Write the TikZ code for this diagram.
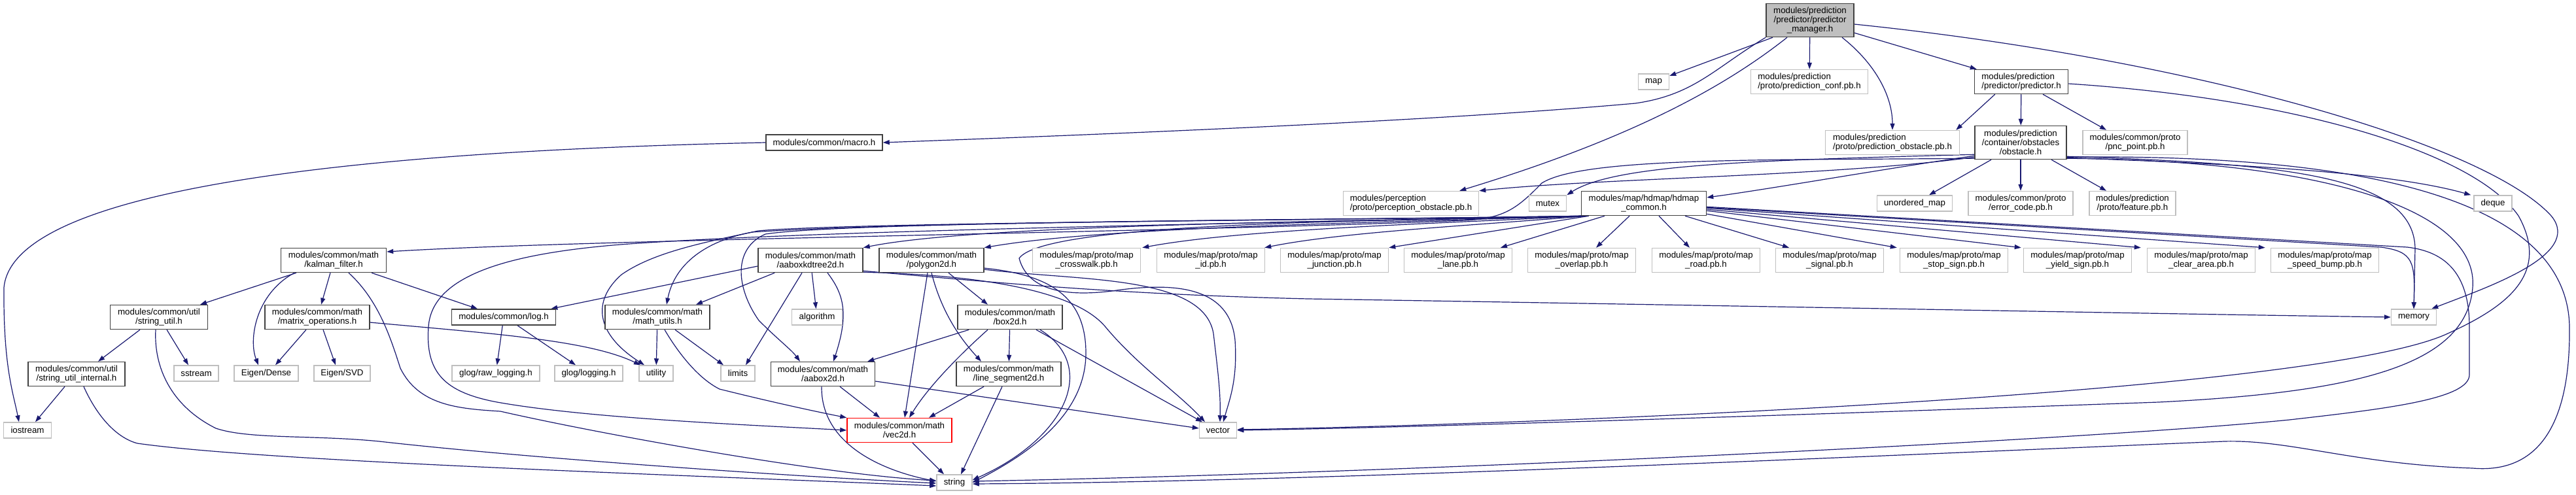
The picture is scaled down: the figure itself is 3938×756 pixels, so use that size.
\documentclass[tikz,border=0pt]{standalone}
\usepackage{fontspec}
\setmainfont{Liberation Sans}
\usetikzlibrary{arrows.meta}
\definecolor{edgec}{HTML}{191970}
\definecolor{extc}{HTML}{BFBFBF}
\definecolor{docc}{HTML}{404040}
\definecolor{rootc}{HTML}{BFBFBF}
\pgfdeclarelayer{back}
\pgfdeclarelayer{edges}
\pgfsetlayers{back,edges,main}
\tikzset{
  box/.style={rectangle, inner sep=0pt, line width=1.5pt, fill=white, align=center, minimum height=24pt},
  doc/.style={box, draw=docc},
  ext/.style={box, draw=extc},
  two/.style={minimum height=37pt},
  mapbox/.style={ext, two, minimum width=165pt},
  e/.style={draw=edgec, line width=1.2pt, -{Triangle[length=10pt,width=7pt]}},
}
\begin{document}
\begin{tikzpicture}[x=1pt,y=-1pt,font=\fontsize{13.3pt}{13.8pt}\selectfont]
\begin{pgfonlayer}{back}
\fill[white] (0,0) rectangle (3938,756);
\end{pgfonlayer}
\useasboundingbox (0,0) rectangle (3938,756);
% ---------------- nodes ----------------
\node[doc,fill=rootc,minimum width=134pt,minimum height=51pt] (pm) at (2767,31) {modules/prediction\\/predictor/predictor\\\_manager.h};
\node[ext,minimum width=47pt] (map) at (2528,125) {map};
\node[ext,two,minimum width=179pt,align=left] (pconf) at (2766,125) {modules/prediction\\/proto/prediction\_conf.pb.h};
\node[doc,two,minimum width=143pt,align=left] (predh) at (3090,125) {modules/prediction\\/predictor/predictor.h};
\node[doc,minimum width=178pt] (macro) at (1260,218) {modules/common/macro.h};
\node[ext,two,minimum width=205pt,align=left] (pobs) at (2893,218) {modules/prediction\\/proto/prediction\_obstacle.pb.h};
\node[doc,minimum width=140pt,minimum height=51pt] (obst) at (3089,218) {modules/prediction\\/container/obstacles\\/obstacle.h};
\node[ext,two,minimum width=160pt] (pnc) at (3264,218) {modules/common/proto\\/pnc\_point.pb.h};
\node[ext,two,minimum width=207pt,align=left] (perc) at (2157,311) {modules/perception\\/proto/perception\_obstacle.pb.h};
\node[ext,minimum width=57pt] (mutex) at (2366,311) {mutex};
\node[doc,two,minimum width=191pt] (hdmap) at (2513,311) {modules/map/hdmap/hdmap\\\_common.h};
\node[ext,minimum width=115pt] (umap) at (2927,311) {unordered\_map};
\node[ext,two,minimum width=160pt] (errc) at (3089,311) {modules/common/proto\\/error\_code.pb.h};
\node[ext,two,minimum width=132pt] (feat) at (3260,311) {modules/prediction\\/proto/feature.pb.h};
\node[ext,minimum width=58pt] (deque) at (3811,311) {deque};
\node[doc,two,minimum width=161pt] (kalman) at (510,398) {modules/common/math\\/kalman\_filter.h};
\node[doc,two,minimum width=160pt] (aakd) at (1239,398) {modules/common/math\\/aaboxkdtree2d.h};
\node[doc,two,minimum width=160pt] (poly) at (1424,398) {modules/common/math\\/polygon2d.h};
\node[mapbox] (crosswalk) at (1661,398) {modules/map/proto/map\\\_crosswalk.pb.h};
\node[mapbox] (id) at (1851,398) {modules/map/proto/map\\\_id.pb.h};
\node[mapbox] (junction) at (2040,398) {modules/map/proto/map\\\_junction.pb.h};
\node[mapbox] (lane) at (2229,398) {modules/map/proto/map\\\_lane.pb.h};
\node[mapbox] (overlap) at (2418,398) {modules/map/proto/map\\\_overlap.pb.h};
\node[mapbox] (road) at (2608,398) {modules/map/proto/map\\\_road.pb.h};
\node[mapbox] (signal) at (2797,398) {modules/map/proto/map\\\_signal.pb.h};
\node[mapbox] (stop) at (2987,398) {modules/map/proto/map\\\_stop\_sign.pb.h};
\node[mapbox] (yield) at (3176,398) {modules/map/proto/map\\\_yield\_sign.pb.h};
\node[mapbox] (clear) at (3365,398) {modules/map/proto/map\\\_clear\_area.pb.h};
\node[mapbox] (speed) at (3554,398) {modules/map/proto/map\\\_speed\_bump.pb.h};
\node[doc,two,minimum width=149pt] (strutil) at (243,485) {modules/common/util\\/string\_util.h};
\node[doc,two,minimum width=160pt] (matops) at (485,485) {modules/common/math\\/matrix\_operations.h};
\node[doc,minimum width=159pt] (log) at (770,485) {modules/common/log.h};
\node[doc,two,minimum width=160pt] (mathutils) at (1005,485) {modules/common/math\\/math\_utils.h};
\node[ext,minimum width=77pt] (algorithm) at (1249,485) {algorithm};
\node[doc,two,minimum width=160pt] (box2d) at (1544,485) {modules/common/math\\/box2d.h};
\node[ext,minimum width=69pt] (memory) at (3690,485) {memory};
\node[doc,two,minimum width=148pt] (sui) at (117,572) {modules/common/util\\/string\_util\_internal.h};
\node[ext,minimum width=68pt] (sstream) at (300,571) {sstream};
\node[ext,minimum width=98pt] (edense) at (407,571) {Eigen/Dense};
\node[ext,minimum width=86pt] (esvd) at (523,571) {Eigen/SVD};
\node[ext,minimum width=134pt] (rawlog) at (758,571) {glog/raw\_logging.h};
\node[ext,minimum width=104pt] (glog) at (900,571) {glog/logging.h};
\node[ext,minimum width=52pt] (utility) at (1003,571) {utility};
\node[ext,minimum width=52pt] (limits) at (1128,571) {limits};
\node[doc,two,minimum width=159pt] (aabox) at (1258,572) {modules/common/math\\/aabox2d.h};
\node[doc,two,minimum width=160pt] (lineseg) at (1542,572) {modules/common/math\\/line\_segment2d.h};
\node[ext,minimum width=73pt] (iostream) at (42,658) {iostream};
\node[box,draw=red,two,minimum width=160pt] (vec2d) at (1375,658) {modules/common/math\\/vec2d.h};
\node[ext,minimum width=57pt] (vector) at (1862,658) {vector};
\node[ext,minimum width=54pt] (string) at (1459,738) {string};
\begin{pgfonlayer}{edges}
% ---------------- edges: predictor_manager ----------------
\draw[e] ([xshift=-57pt]pm.south) -- (map);
\draw[e] (pm) -- (pconf);
\draw[e] ([xshift=49pt]pm.south) .. controls (2870,100) and (2893,150) .. (pobs.north);
\draw[e] ([yshift=7pt]pm.south east) -- ([xshift=4pt]predh.north west);
\draw[e] (pm.south west) .. controls (2620,105) and (2590,145) .. (2500,158) .. controls (2200,185) and (1700,205) .. (macro.east);
\draw[e] ([xshift=-35pt]pm.south) .. controls (2640,130) and (2500,210) .. ([xshift=-30pt]perc.north east);
\draw[e] ([yshift=-6pt]pm.east) .. controls (3350,90) and (3800,220) .. (3900,330) .. controls (3950,390) and (3800,440) .. ([xshift=-8pt]memory.north east);
\draw[e] (macro.west) .. controls (600,230) and (20,280) .. (6,440) .. controls (5,560) and (20,600) .. ([xshift=-13pt]iostream.north);
% ---------------- predictor.h ----------------
\draw[e] ([xshift=32pt]predh.south west) -- ([xshift=-6pt]pobs.north east);
\draw[e] (predh) -- (obst);
\draw[e] ([xshift=33pt]predh.south) -- ([xshift=-44pt]pnc.north);
\draw[e] ([yshift=-3pt]predh.east) .. controls (3500,150) and (3780,230) .. (3850,330) .. controls (3900,420) and (3830,470) .. (3742,510) .. controls (3550,600) and (2400,648) .. ([yshift=1pt]vector.east);
% ---------------- obstacle.h ----------------
\draw[e] ([xshift=-45pt]obst.south) -- ([xshift=22pt]umap.north);
\draw[e] (obst) -- (errc);
\draw[e] ([xshift=47pt]obst.south) -- ([xshift=-40pt]feat.north);
\draw[e] ([yshift=3pt]obst.south east) .. controls (3400,250) and (3650,262) .. ([xshift=-4pt]deque.north west);
\draw[e] ([yshift=5pt]obst.south east) .. controls (3500,250) and (3690,270) .. (3692,380) -- (memory.north);
\draw[e] ([yshift=4pt]obst.south east) .. controls (3600,235) and (3925,300) .. (3928,500) .. controls (3930,690) and (3850,722) .. (3780,716) .. controls (3600,710) and (3500,672) .. (3400,675) .. controls (2800,700) and (2000,737) .. ([yshift=-2pt]string.east);
\draw[e] ([yshift=2pt]obst.south east) .. controls (3550,245) and (3790,320) .. (3780,440) .. controls (3770,560) and (3600,600) .. (3300,615) .. controls (2600,640) and (2100,655) .. (vector.east);
\draw[e] ([yshift=6pt]obst.south west) .. controls (2900,255) and (2700,290) .. ([yshift=9pt]hdmap.east);
\draw[e] ([yshift=8pt]obst.south west) .. controls (2700,245) and (2470,250) .. (mutex.north east);
\draw[e] ([yshift=4pt]obst.south west) .. controls (2800,270) and (2450,272) .. (perc.north east);
\draw[e] ([yshift=2pt]obst.south west) .. controls (2700,245) and (2420,240) .. (2357,280) .. controls (2320,318) and (2300,334) .. (2240,337) .. controls (1800,355) and (900,366) .. ([yshift=13pt]kalman.east);
% ---------------- hdmap_common.h ----------------
\draw[e] ([xshift=-60pt]hdmap.south) -- ([xshift=65pt]lane.north);
\draw[e] ([xshift=-22pt]hdmap.south) -- ([xshift=22pt]overlap.north);
\draw[e] ([xshift=23pt]hdmap.south) -- ([xshift=-25pt]road.north);
\draw[e] ([xshift=63pt]hdmap.south) -- ([xshift=-62pt]signal.north);
\draw[e] ([yshift=3pt]hdmap.south east) -- ([xshift=-4pt]stop.north west);
\draw[e] ([yshift=8pt]hdmap.south east) -- ([xshift=-3pt]yield.north west);
\draw[e] ([yshift=10pt]hdmap.south east) -- ([xshift=-9pt]clear.north west);
\draw[e] ([yshift=12pt]hdmap.south east) -- ([xshift=-8pt]speed.north west);
\draw[e] ([yshift=13pt]hdmap.south east) -- (3640,378) .. controls (3690,385) and (3692,400) .. (memory.north);
\draw[e] ([yshift=14pt]hdmap.south east) -- (3680,378) .. controls (3740,385) and (3775,420) .. (3775,500) -- (3775,573) .. controls (3775,610) and (3650,625) .. (3500,642) .. controls (3200,672) and (2200,722) .. ([yshift=2pt]string.east);
\draw[e] ([xshift=12pt]hdmap.south west) -- (junction.north east);
\draw[e] ([xshift=10pt]hdmap.south west) .. controls (2250,345) and (2050,355) .. ([xshift=-1pt]id.north east);
\draw[e] ([xshift=8pt]hdmap.south west) .. controls (2200,342) and (1900,350) .. ([xshift=2pt]crosswalk.north east);
\draw[e] ([xshift=6pt]hdmap.south west) .. controls (2150,340) and (1700,345) .. (poly.north east);
\draw[e] ([xshift=5pt]hdmap.south west) .. controls (2100,338) and (1500,342) .. (aakd.north east);
\draw[e] ([xshift=4pt]hdmap.south west) .. controls (2100,336) and (1400,338) .. (1150,355) .. controls (1070,370) and (1030,410) .. ([xshift=14pt]mathutils.north);
\draw[e] ([xshift=3pt]hdmap.south west) .. controls (2100,336) and (1300,338) .. (1170,358) .. controls (1120,380) and (1125,440) .. (1160,490) .. controls (1190,520) and (1210,535) .. ([xshift=-35pt]aabox.north);
\draw[e] ([xshift=2pt]hdmap.south west) .. controls (2100,338) and (1300,350) .. (976,372) .. controls (780,385) and (660,420) .. (655,500) .. controls (650,570) and (680,600) .. (760,615) .. controls (900,640) and (1150,650) .. (vec2d.west);
\draw[e] ([xshift=1pt]hdmap.south west) .. controls (2100,336) and (1300,340) .. (1159,353) .. controls (1080,370) and (1000,385) .. (950,420) .. controls (905,460) and (910,510) .. ([xshift=-18pt]utility.north);
\draw[e] ([xshift=7pt]hdmap.south west) .. controls (2200,338) and (1600,335) .. (1558,395) .. controls (1570,440) and (1620,455) .. (1700,445) .. controls (1800,430) and (1880,440) .. (1888,520) .. controls (1892,580) and (1880,610) .. ([xshift=8pt]vector.north);
% ---------------- aaboxkdtree2d.h ----------------
\draw[e] ([yshift=-9pt]aakd.west) -- ([xshift=-8pt]log.north east);
\draw[e] ([xshift=26pt]aakd.south west) -- ([xshift=59pt]mathutils.north);
\draw[e] ([xshift=-13pt]aakd.south) -- ([xshift=12pt]limits.north);
\draw[e] (aakd) -- (algorithm);
\draw[e] ([xshift=26pt]aakd.south) .. controls (1290,450) and (1298,480) .. ([xshift=16pt]aabox.north);
\draw[e] ([yshift=3pt]aakd.south east) .. controls (1500,430) and (1700,450) .. (2000,457) .. controls (2800,470) and (3300,480) .. (memory.west);
\draw[e] ([yshift=1pt]aakd.south east) .. controls (1480,420) and (1640,440) .. (1690,500) .. controls (1740,560) and (1800,600) .. ([xshift=-20pt]vector.north);
% ---------------- polygon2d.h ----------------
\draw[e] ([xshift=-6pt]poly.south) -- ([xshift=8pt]vec2d.north);
\draw[e] (poly.south) .. controls (1440,480) and (1470,520) .. ([xshift=-42pt]lineseg.north);
\draw[e] ([xshift=26pt]poly.south) -- ([xshift=-34pt]box2d.north);
\draw[e] ([yshift=-12pt]poly.east) .. controls (1600,420) and (1660,450) .. (1660,540) .. controls (1660,640) and (1560,700) .. (string.east);
\draw[e] ([yshift=-14pt]poly.east) .. controls (1650,430) and (1840,420) .. (1855,510) .. controls (1862,570) and (1866,600) .. ([xshift=3pt]vector.north);
% ---------------- box2d.h ----------------
\draw[e] ([xshift=18pt]box2d.south west) -- ([xshift=-12pt]aabox.north east);
\draw[e] ([xshift=-34pt]box2d.south) .. controls (1470,540) and (1420,590) .. ([xshift=15pt]vec2d.north);
\draw[e] (box2d) -- (lineseg);
\draw[e] ([xshift=40pt]box2d.south) -- ([xshift=-24pt]vector.north);
\draw[e] ([xshift=46pt]box2d.south) .. controls (1680,560) and (1630,670) .. ([yshift=4pt]string.east);
% ---------------- aabox2d.h / line_segment2d.h / vec2d.h ----------------
\draw[e] ([xshift=-2pt]aabox.south) .. controls (1255,680) and (1350,720) .. ([yshift=2pt]string.west);
\draw[e] ([xshift=26pt]aabox.south) -- ([xshift=-30pt]vec2d.north);
\draw[e] ([yshift=-11pt]aabox.east) -- ([yshift=3pt]vector.west);
\draw[e] ([xshift=-38pt]lineseg.south) -- ([xshift=45pt]vec2d.north);
\draw[e] ([xshift=-10pt]lineseg.south) -- ([xshift=10pt]string.north);
\draw[e] ([xshift=20pt]vec2d.south) -- ([xshift=-16pt]string.north);
% ---------------- math_utils.h ----------------
\draw[e] (mathutils) -- (utility);
\draw[e] ([xshift=27pt]mathutils.south) -- ([xshift=-22pt]limits.north);
\draw[e] ([xshift=11pt]mathutils.south) .. controls (1040,545) and (1070,580) .. (1100,595) .. controls (1180,615) and (1250,630) .. (vec2d.north west);
% ---------------- kalman_filter.h ----------------
\draw[e] ([xshift=-57pt]kalman.south) -- ([xshift=63pt]strutil.north);
\draw[e] ([xshift=-5pt]kalman.south) -- ([xshift=6pt]matops.north);
\draw[e] ([xshift=58pt]kalman.south) -- ([xshift=-40pt]log.north);
\draw[e] ([xshift=-60pt]kalman.south) .. controls (390,450) and (380,520) .. ([xshift=-12pt]edense.north);
\draw[e] ([xshift=23pt]kalman.south) .. controls (580,460) and (598,520) .. (612,563) .. controls (640,620) and (700,625) .. (765,629) .. controls (900,660) and (1250,725) .. ([yshift=3pt]string.west);
% ---------------- matrix_operations.h / log.h ----------------
\draw[e] ([xshift=-17pt]matops.south) -- ([xshift=14pt]edense.north);
\draw[e] ([xshift=9pt]matops.south) -- ([xshift=-10pt]esvd.north);
\draw[e] ([yshift=-8pt]matops.east) .. controls (750,510) and (900,520) .. ([xshift=-24pt]utility.north);
\draw[e] (log) -- (rawlog);
\draw[e] ([xshift=21pt]log.south) -- ([xshift=-20pt]glog.north);
% ---------------- string_util ----------------
\draw[e] ([xshift=-29pt]strutil.south) -- ([xshift=33pt]sui.north);
\draw[e] ([xshift=12pt]strutil.south) -- ([xshift=-12pt]sstream.north);
\draw[e] ([xshift=-5pt]strutil.south) .. controls (235,560) and (260,620) .. (330,655) .. controls (380,672) and (480,665) .. (580,675) .. controls (800,700) and (1200,728) .. ([yshift=-1pt]string.west);
\draw[e] ([xshift=-18pt]sui.south) -- ([xshift=12pt]iostream.north);
\draw[e] ([xshift=11pt]sui.south) .. controls (150,640) and (180,670) .. (210,678) .. controls (400,705) and (1000,725) .. ([yshift=-5pt]string.west);
\end{pgfonlayer}
\end{tikzpicture}
\end{document}
